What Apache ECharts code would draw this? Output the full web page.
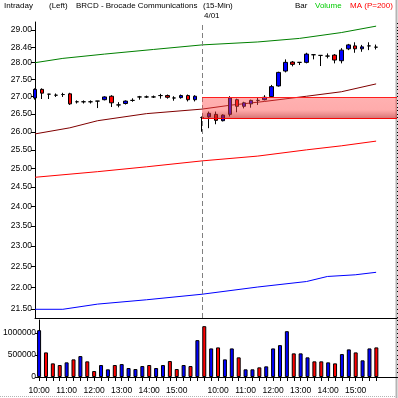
<!DOCTYPE html>
<html><head><meta charset="utf-8">
<script src="https://cdn.jsdelivr.net/npm/echarts@6/dist/echarts.min.js"></script>
<style>html,body{margin:0;padding:0;background:#fff}#c{width:398px;height:398px}</style>
</head><body><div id="c"></div>
<script>
// ---- categories (15-min bars, two sessions) + 3 empty slots on the right ----
const times = [
 '10:00','10:15','10:30','10:45','11:00','11:15','11:30','11:45','12:00','12:15','12:30','12:45',
 '13:00','13:15','13:30','13:45','14:00','14:15','14:30','14:45','15:00','15:15','15:30','15:45',
 '09:30','09:45','10:00','10:15','10:30','10:45','11:00','11:15','11:30','11:45','12:00','12:15','12:30','12:45',
 '13:00','13:15','13:30','13:45','14:00','14:15','14:30','14:45','15:00','15:15','15:30','15:45',
 '','',''
];
// ---- OHLC ----
const open  = [26.96,27.21,27.07,27.04,27.06,27.08,26.85,26.85,26.85,26.87,26.91,27.01,26.76,26.80,26.89,26.99,26.99,26.99,27.03,27.03,26.96,26.97,27.03,26.91,
               26.40,26.42,26.49,26.31,26.49,26.91,26.72,26.79,26.89,26.91,27.00,27.31,27.75,28.02,28.01,28.01,28.24,28.22,28.20,28.23,28.06,28.42,28.51,28.42,28.51,28.47];
const close = [27.21,27.10,27.07,27.04,27.06,26.79,26.85,26.85,26.85,26.87,26.99,26.82,26.76,26.87,26.89,26.99,26.99,26.99,27.03,26.98,26.96,27.03,26.91,27.01,
               26.40,26.52,26.32,26.47,26.96,26.72,26.82,26.89,26.89,26.98,27.29,27.71,28.01,27.95,28.01,28.26,28.24,28.22,28.20,28.08,28.38,28.54,28.42,28.48,28.51,28.47];
const low   = [26.91,26.93,26.93,26.99,26.99,26.76,26.80,26.80,26.80,26.67,26.89,26.70,26.69,26.77,26.85,26.91,26.96,26.96,26.94,26.94,26.88,26.94,26.86,26.86,
               26.00,26.10,26.21,26.29,26.43,26.55,26.66,26.68,26.76,26.89,26.97,27.29,27.71,27.89,27.93,27.98,28.10,27.90,28.13,27.98,27.98,28.38,28.30,28.33,28.38,28.40];
const high  = [27.24,27.24,27.08,27.09,27.11,27.11,26.89,26.89,26.89,26.87,27.01,27.04,26.84,26.89,26.95,27.02,27.03,27.03,27.08,27.06,27.01,27.06,27.06,27.04,
               26.43,26.57,26.57,26.49,27.01,26.94,26.85,26.91,26.98,27.04,27.34,27.73,28.10,28.05,28.01,28.30,28.25,28.22,28.28,28.26,28.44,28.57,28.62,28.54,28.62,28.55];
// ---- volume ----
const volume = [1068000,561000,311000,273000,334000,402000,477000,357000,136000,273000,175000,273000,295000,205000,182000,250000,273000,205000,273000,364000,182000,273000,250000,841000,
                1159000,652000,675000,402000,652000,448000,175000,175000,220000,243000,652000,727000,1045000,539000,539000,448000,357000,357000,334000,311000,523000,630000,561000,380000,652000,675000];
const volUp  = [1,0,0,0,1,0,1,0,0,1,1,0,1,1,1,1,0,1,1,0,0,1,0,1,
                0,1,0,1,1,0,1,1,0,1,1,1,1,0,1,1,0,0,1,0,1,1,0,1,1,0];
// ---- indicator lines [barIndex, value] ----
const lineGreen   = [[0,28.00],[4,28.13],[10,28.26],[17,28.40],[24,28.54],[32,28.63],[38,28.74],[44,28.92],[49,29.12]];
const lineDarkRed = [[0,25.94],[5,26.11],[9,26.31],[16,26.51],[24,26.64],[28,26.75],[33,26.86],[39,27.01],[44,27.14],[49,27.37]];
const lineRed     = [[0,24.76],[9,24.91],[16,25.04],[24,25.20],[32,25.33],[39,25.50],[44,25.61],[49,25.74]];
const lineBlue    = [[0,21.49],[4,21.49],[9,21.61],[16,21.71],[24,21.84],[32,22.01],[39,22.14],[42,22.26],[46,22.30],[49,22.36]];
// ---- highlighted range ----
const bandTop = 26.99, bandBottom = 26.38, bandStart = 24, bandEnd = 52;
const dayBreak = 24;
// ---- tick labels ----
const priceTicks = [21.5,22,22.5,23,23.5,24,24.5,25,25.5,26,26.5,27,27.5,28,28.46,29];
const volTicks = [0,500000,1000000];

const minorPrice = []; for (let v = 213; v <= 292; v++) minorPrice.push(v / 10);
const minorVol = []; for (let v = 0; v <= 1300000; v += 100000) minorVol.push(v);

const FONT = 'Liberation Sans';
const lab = {fontFamily: FONT, fontSize: 8.5, color: '#000'};
const HF = '8px ' + FONT;

const chart = echarts.init(document.getElementById('c'), null, {renderer: 'canvas'});
const candleData = open.map((o, i) => [o, close[i], low[i], high[i]]);
const volData = volume.map((v, i) => ({value: v, itemStyle: {color: volUp[i] ? '#0000ff' : '#ff0000'}}));

chart.setOption({
  animation: false,
  backgroundColor: '#fff',
  grid: [
    {left: 35, right: 1, top: 22, height: 296},
    {left: 35, right: 1, top: 320, height: 57}
  ],
  xAxis: [
    {type: 'category', gridIndex: 0, data: times, boundaryGap: false,
     axisLine: {show: true, lineStyle: {color: '#000'}}, axisTick: {show: false}, axisLabel: {show: false}, splitLine: {show: false}},
    {type: 'category', gridIndex: 1, data: times, boundaryGap: false,
     axisLine: {show: true, lineStyle: {color: '#000'}},
     axisTick: {show: true, interval: (i) => i < 50, length: 4, lineStyle: {color: '#000'}},
     axisLabel: Object.assign({interval: (i, v) => /:00$/.test(v), margin: 9}, lab),
     splitLine: {show: false}}
  ],
  yAxis: [
    {type: 'log', gridIndex: 0, min: 21.29, max: 29.25,
     axisLine: {show: true, lineStyle: {color: '#000'}},
     axisTick: {show: true, customValues: priceTicks, length: 4, lineStyle: {color: '#000'}},
     axisLabel: Object.assign({customValues: priceTicks, formatter: (v) => Number(v).toFixed(2), margin: 3}, lab),
     splitLine: {show: false}},
    {type: 'log', gridIndex: 0, min: 21.29, max: 29.25,
     axisLine: {show: false},
     axisTick: {show: true, customValues: minorPrice, length: 2, lineStyle: {color: '#000'}},
     axisLabel: {show: false}, splitLine: {show: false}},
    {type: 'value', gridIndex: 1, min: 0, max: 1300000,
     axisLine: {show: true, lineStyle: {color: '#000'}},
     axisTick: {show: true, customValues: volTicks, length: 4, lineStyle: {color: '#000'}},
     axisLabel: Object.assign({customValues: volTicks, formatter: (v) => String(v), margin: 3}, lab),
     splitLine: {show: false}},
    {type: 'value', gridIndex: 1, min: 0, max: 1300000,
     axisLine: {show: false},
     axisTick: {show: true, customValues: minorVol, length: 2, lineStyle: {color: '#000'}},
     axisLabel: {show: false}, splitLine: {show: false}}
  ],
  series: [
    {type: 'line', xAxisIndex: 0, yAxisIndex: 0, data: lineGreen, symbol: 'none', lineStyle: {color: '#008000', width: 1}, z: 3, silent: true},
    {type: 'line', xAxisIndex: 0, yAxisIndex: 0, data: lineDarkRed, symbol: 'none', lineStyle: {color: '#800000', width: 1}, z: 3, silent: true},
    {type: 'line', xAxisIndex: 0, yAxisIndex: 0, data: lineRed, symbol: 'none', lineStyle: {color: '#ff0000', width: 1}, z: 3, silent: true},
    {type: 'line', xAxisIndex: 0, yAxisIndex: 0, data: lineBlue, symbol: 'none', lineStyle: {color: '#0000ff', width: 1}, z: 3, silent: true},
    {type: 'candlestick', xAxisIndex: 0, yAxisIndex: 0, data: candleData, barWidth: 4, z: 4, silent: true,
     itemStyle: {color: '#0000ff', color0: '#ff0000', borderColor: '#000', borderColor0: '#000', borderWidth: 1},
     markLine: {silent: true, symbol: 'none', label: {show: false},
       lineStyle: {color: '#808080', width: 1, type: [5, 3]},
       data: [{xAxis: dayBreak}]}},
    {type: 'line', xAxisIndex: 0, yAxisIndex: 0, data: [], z: 6, silent: true,
     markArea: {silent: true, z: 6,
       itemStyle: {color: {type: 'linear', x: 0, y: 0, x2: 0, y2: 1, colorStops: [
         {offset: 0, color: 'rgba(255,70,70,0.42)'},
         {offset: 0.6, color: 'rgba(255,70,70,0.45)'},
         {offset: 1, color: 'rgba(190,30,30,0.62)'}]}},
       data: [[{xAxis: bandStart, yAxis: bandTop}, {xAxis: bandEnd, yAxis: bandBottom}]]},
     markLine: {silent: true, symbol: 'none', label: {show: false},
       lineStyle: {color: '#ff0000', width: 1, type: 'solid'},
       data: [[{coord: [bandStart, bandTop]}, {coord: [bandEnd, bandTop]}],
              [{coord: [bandStart, bandBottom]}, {coord: [bandEnd, bandBottom]}]]}},
    {type: 'bar', xAxisIndex: 1, yAxisIndex: 2, data: volData, barWidth: 4, silent: true,
     itemStyle: {borderColor: '#000', borderWidth: 1}}
  ],
  graphic: [
    {type: 'text', left: 4, top: 2, style: {text: 'Intraday', font: HF, fill: '#000'}},
    {type: 'text', left: 49, top: 2, style: {text: '(Left)', font: HF, fill: '#000'}},
    {type: 'text', left: 76, top: 2, style: {text: 'BRCD - Brocade Communications', font: HF, fill: '#000'}},
    {type: 'text', left: 203, top: 2, style: {text: '(15-Min)', font: HF, fill: '#000'}},
    {type: 'text', left: 295, top: 2, style: {text: 'Bar', font: HF, fill: '#000'}},
    {type: 'text', left: 315, top: 2, style: {text: 'Volume', font: HF, fill: '#00cc00'}},
    {type: 'text', left: 350, top: 2, style: {text: 'MA (P=200)', font: HF, fill: '#ff0000'}},
    {type: 'text', left: 204, top: 12, style: {text: '4/01', font: HF, fill: '#000'}},
    {type: 'line', shape: {x1: 396.5, y1: 0, x2: 396.5, y2: 398}, style: {stroke: '#b4b4b4', lineWidth: 2}},
    {type: 'line', shape: {x1: 0, y1: 396.5, x2: 396, y2: 396.5}, style: {stroke: '#b4b4b4', lineWidth: 1, lineDash: [1, 1]}}
  ]
});
</script>
</body></html>
